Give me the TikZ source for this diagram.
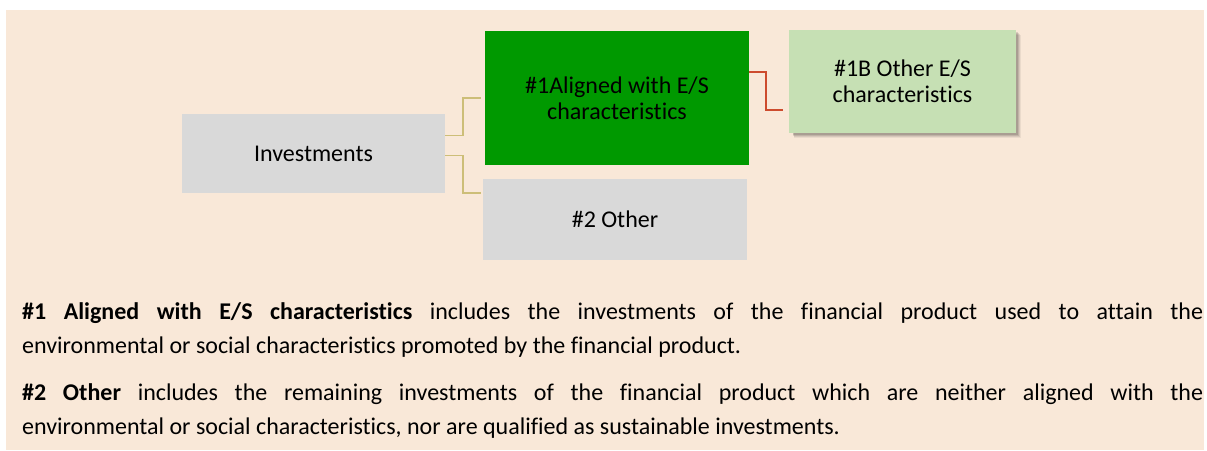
\documentclass[tikz,border=0pt]{standalone}
\usepackage{fontspec}
\setmainfont{Carlito}[Ligatures=NoCommon]
\definecolor{bg}{RGB}{249,232,216}
\definecolor{boxgrey}{RGB}{217,217,217}
\definecolor{boxgreen}{RGB}{0,153,0}
\definecolor{lightgreen}{RGB}{198,224,180}
\definecolor{tanline}{RGB}{205,190,120}
\definecolor{redline}{RGB}{205,75,45}
\tikzset{
  box/.style={rectangle, inner sep=0pt, align=center, font=\fontsize{24}{26}\selectfont, text=black},
  tanconn/.style={draw=tanline, line width=1.5pt},
  redconn/.style={draw=redline, line width=2pt},
}
\begin{document}
\begin{tikzpicture}[x=1pt,y=-1pt]
\useasboundingbox (0,0) rectangle (1207,450);
\fill[white] (0,0) rectangle (1207,450);
\fill[bg] (6,10) rectangle (1204,450);
\node[box, fill=boxgrey, minimum width=263pt, minimum height=79pt] (inv) at (313.5,153.5) {Investments};
\node[box, fill=boxgreen, minimum width=264pt, minimum height=134pt] (g1) at (617,98) {\#1Aligned with E/S\\characteristics};
\node[box, fill=boxgrey, minimum width=264pt, minimum height=81pt] (oth) at (615,219.5) {\#2 Other};
% soft shadow for #1B box
\foreach \d/\o in {5/0.06,4/0.08,3/0.10,2/0.12}{
  \fill[black, opacity=\o] (791.5-\d/2+\d,30+\d) rectangle (1016+\d,133+\d);
}
\node[box, fill=lightgreen, minimum width=227pt, minimum height=103pt] (b1) at (902.5,81.5) {\#1B Other E/S\\characteristics};
\draw[tanconn] ([yshift=18pt]inv.east) -- ++(18,0) |- ([xshift=-4pt]g1.west);
\draw[tanconn] ([yshift=-2pt]inv.east) -- ++(18,0) |- ([xshift=-2pt,yshift=26.5pt]oth.west);
\draw[redconn] ([yshift=26pt]g1.east) -- ++(17,0) |- ([xshift=-6pt,yshift=-28pt]b1.west);
\node[anchor=north west, inner sep=0pt, text width=1181pt, align=justify, font=\fontsize{24}{34}\selectfont] (txt) at (22,302) {%
\textbf{\#1 Aligned with E/S characteristics} includes the investments of the financial product used to attain the\linebreak environmental or social characteristics promoted by the financial product.\par\vspace{13pt}%
\textbf{\#2 Other} includes the remaining investments of the financial product which are neither aligned with the\linebreak environmental or social characteristics, nor are qualified as sustainable investments.};
\end{tikzpicture}
\end{document}
